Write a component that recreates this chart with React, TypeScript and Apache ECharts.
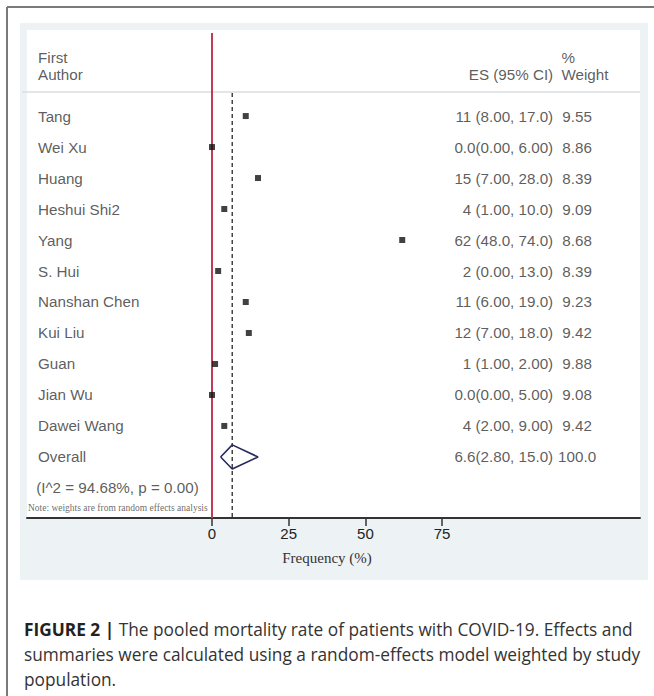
import React, { useEffect, useRef } from "react";
import * as echarts from "echarts";

const authors = ["Tang", "Wei Xu", "Huang", "Heshui Shi2", "Yang", "S. Hui", "Nanshan Chen", "Kui Liu", "Guan", "Jian Wu", "Dawei Wang"];
const esValues = [11, 0, 15, 4, 62, 2, 11, 12, 1, 0, 4];
const esLabels = [
  "11 (8.00, 17.0)", "0.0(0.00, 6.00)", "15 (7.00, 28.0)", "4 (1.00, 10.0)", "62 (48.0, 74.0)",
  "2 (0.00, 13.0)", "11 (6.00, 19.0)", "12 (7.00, 18.0)", "1 (1.00, 2.00)", "0.0(0.00, 5.00)", "4 (2.00, 9.00)",
];
const weightLabels = ["9.55", "8.86", "8.39", "9.09", "8.68", "8.39", "9.23", "9.42", "9.88", "9.08", "9.42"];
const overall = { es: 6.6, lower: 2.8, upper: 15.0, label: "6.6(2.80, 15.0)", weight: "100.0" };
const heterogeneity = "(I^2 = 94.68%, p = 0.00)";
const tickValues = [0, 25, 50, 75];

const SANS = "'Liberation Sans', Arial, sans-serif";
const SERIF = "'Liberation Serif', 'Times New Roman', serif";
const CAPTION = "'Open Sans', 'Liberation Sans', sans-serif";

export default function App() {
  const ref = useRef<HTMLDivElement>(null);
  useEffect(() => {
    if (!ref.current) return;
    const chart = echarts.init(ref.current, null, { renderer: "svg" });
    const X_MIN = -60.3;
    const X_MAX = 139.5;
    const Y_MIN = -2.68;
    const Y_MAX = 12.97;
    const nameX = -56.7;
    const esX = 111.2;
    const wX = 119.0;
    const hdrX = 113.9;
    const n = authors.length;
    const textStyle = { fontFamily: SANS, fontSize: 15.2, color: "#333" };

    const labelSeries = (data: any[], position: string, extra: any = {}) => ({
      type: "scatter",
      symbolSize: 0,
      silent: true,
      data,
      label: {
        show: true,
        position,
        distance: 0,
        formatter: (p: any) => p.data.t,
        ...textStyle,
        ...extra,
      },
      z: 5,
    });

    const nameData = authors.map((a, i) => ({ value: [nameX, i], t: a }));
    nameData.push({ value: [nameX, n], t: "Overall" });
    nameData.push({ value: [nameX - 0.6, n + 1], t: heterogeneity });
    const esData = esLabels.map((l, i) => ({ value: [esX, i], t: l }));
    esData.push({ value: [esX, n], t: overall.label });
    const wData = weightLabels.map((l, i) => ({ value: [wX, i], t: l }));
    wData.push({ value: [wX, n], t: overall.weight });

    const option: any = {
      animation: false,
      graphic: [
        { type: "rect", z: -100, shape: { x: 20, y: 23, width: 628, height: 557 }, style: { fill: "#edf2f5" } },
        { type: "rect", z: -99, shape: { x: 27, y: 30, width: 613, height: 488 }, style: { fill: "#ffffff" } },
        { type: "line", z: -98, shape: { x1: 22, y1: 92, x2: 640, y2: 92 }, style: { stroke: "#d9dee1", lineWidth: 1.5 } },
        { type: "line", shape: { x1: 7, y1: 7, x2: 654, y2: 7 }, style: { stroke: "#7a7a7a", lineWidth: 2 } },
        { type: "line", shape: { x1: 7, y1: 7, x2: 7, y2: 696 }, style: { stroke: "#7a7a7a", lineWidth: 2 } },
        {
          type: "text",
          x: 24,
          y: 617,
          style: {
            text:
              "{b|FIGURE 2 |} The pooled mortality rate of patients with COVID-19. Effects and\nsummaries were calculated using a random-effects model weighted by study\npopulation.",
            fontFamily: CAPTION,
            fontSize: 17.3,
            lineHeight: 25,
            fill: "#333",
            rich: { b: { fontFamily: CAPTION, fontSize: 17.3, fontWeight: "bold", fill: "#222" } },
          },
        },
      ],
      grid: { left: 27, right: 14, top: 33, bottom: 178, containLabel: false },
      xAxis: {
        type: "value",
        min: X_MIN,
        max: X_MAX,
        splitLine: { show: false },
        axisLine: { show: true, onZero: false, lineStyle: { color: "#333", width: 2 } },
        axisTick: { show: true, customValues: tickValues, length: 8, lineStyle: { color: "#333", width: 1.5 } },
        axisLabel: { customValues: tickValues, fontFamily: SANS, fontSize: 15, color: "#222", margin: 8 },
        name: "Frequency (%)",
        nameLocation: "middle",
        nameGap: 32,
        nameTextStyle: { fontFamily: SERIF, fontSize: 15, color: "#333", padding: [0, 13, 0, 0] },
      },
      yAxis: { type: "value", inverse: true, min: Y_MIN, max: Y_MAX, show: false },
      series: [
        {
          type: "line",
          data: [[0, Y_MIN], [0, Y_MAX]],
          symbol: "none",
          lineStyle: { color: "#c43a55", width: 2 },
          z: 3,
          silent: true,
        },
        {
          type: "line",
          data: [[overall.es, -0.74], [overall.es, Y_MAX]],
          symbol: "none",
          lineStyle: { color: "#444", width: 1.5, type: [4, 3] },
          z: 3,
          silent: true,
        },
        {
          type: "scatter",
          symbol: "rect",
          symbolSize: 6,
          itemStyle: { color: "#111" },
          data: esValues.map((v, i) => [v, i]),
          z: 6,
          silent: true,
        },
        {
          type: "line",
          data: [
            [overall.lower, n],
            [overall.es, n - 0.39],
            [overall.upper, n],
            [overall.es, n + 0.39],
            [overall.lower, n],
          ],
          symbol: "none",
          lineStyle: { color: "#272a5c", width: 1.6 },
          z: 6,
          silent: true,
        },
        labelSeries([{ value: [nameX, -1.63], t: "First\nAuthor" }], "right", { lineHeight: 17 }),
        labelSeries([{ value: [esX, -1.35], t: "ES (95% CI)" }], "left"),
        labelSeries([{ value: [hdrX, -1.63], t: "%\nWeight" }], "right", { lineHeight: 17 }),
        labelSeries(nameData, "right"),
        labelSeries(esData, "left"),
        labelSeries(wData, "inside"),
        labelSeries([{ value: [X_MIN + 0.3, 12.65], t: "Note: weights are from random effects analysis" }], "right", {
          fontFamily: SERIF,
          fontSize: 9.5,
          color: "#444",
        }),
      ],
    };
    chart.setOption(option);
    return () => chart.dispose();
  }, []);
  return <div ref={ref} style={{ position: "absolute", left: 0, top: 0, width: 654, height: 696 }} />;
}
